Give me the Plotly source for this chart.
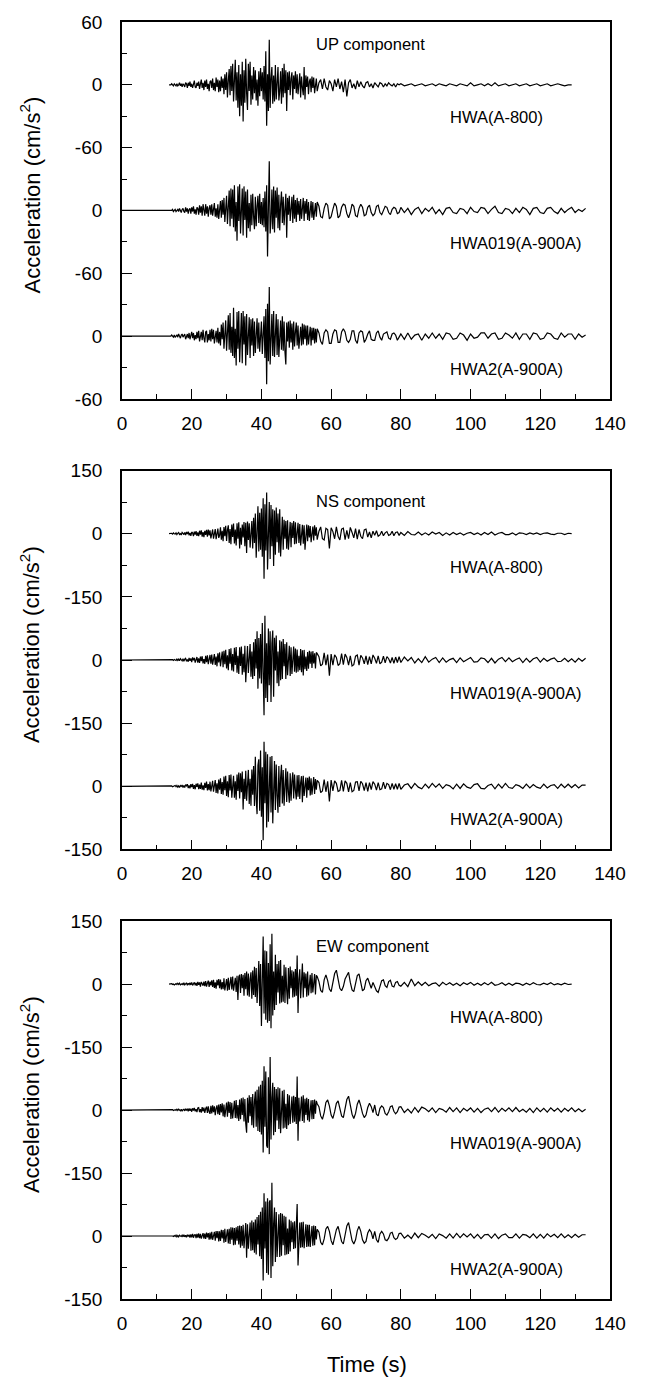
import numpy as np
import plotly.graph_objects as go

# Sample times (s): 0.25 s through the strong shaking, 0.5 s into the coda, 1 s afterwards
T_FAST = 14.0 + 0.25 * np.arange(168)
T_MID = 56.0 + 0.5 * np.arange(48)
T_SLOW = 80.0 + 1.0 * np.arange(54)
TIME = np.concatenate([T_FAST, T_MID, T_SLOW])

STATIONS = ["HWA(A-800)", "HWA019(A-900A)", "HWA2(A-900A)"]
RECORD_START = [13.5, 0.0, 0.0]

# ---------------- UP component (cm/s^2) ----------------
UP_HWA = [
    0, 1, 0, -1, 1, 0, -1, 1,
    -1, 0, 2, -1, 1, -2, 1, 0,
    -2, 2, 1, -3, 2, -1, 3, -2,
    1, -3, 2, 4, -2, -3, 2, -1,
    3, -4, 1, 5, -3, 2, -5, 4,
    -2, 5, -4, 1, -6, 3, 4, -3,
    6, -5, 2, -6, 7, -2, 5, -7,
    4, -6, 8, -3, 6, -9, 10, -5,
    12, -12, 4, 15, -10, 18, -6, 20,
    -16, 8, 24, -15, 12, -22, 19, -30,
    10, -20, 22, -35, 14, -17, 25, -8,
    -24, 20, -6, 22, -19, 9, -14, 17,
    -8, 14, -15, 5, -20, 13, -11, 16,
    -6, 12, -14, 18, -16, 32, -39, 10,
    -25, 43, -22, 6, 17, -18, 9, -16,
    19, -14, 4, 17, -15, -6, 13, -18,
    16, -12, 20, -8, 14, -25, 12, -5,
    13, -10, 6, 12, -14, 9, -4, 13,
    -8, 10, -9, 4, 11, -12, 8, -3,
    -10, 17, -14, 9, -2, 8, -9, 3,
    6, -7, 8, -3, 7, -8, 2, 6,
    -6, 2, 5, -4, 6, -2, -5, 4,
    1, -6, 5, -2, 6, -4, 3, -7,
    5, -11, 2, 5, -3, 1, -4, 4,
    -2, 3, -1, -3, 2, 3, -2, 1,
    -3, 2, 0, -2, 2, 1, -2, 1,
    -1, 2, 0, -1, 1, -2, 1, 0,
    1, -1, 0, 1, -1, 0, 1, -1,
    0, 1, -1, 1, 0, -1, 1, 0,
    -1, 1, 0, -1, 2, -1, 0, 1,
    -1, 1, -1, 2, -1, 0, 1, -1,
    0, 1, -1, 0, 1, -1, 0, 1,
    -1, 0, 1, -1, 0, 1, 0, -1,
    0, 0,
]
UP_HWA019 = [
    0, 0, 1, -1, 0, 1, -1, 0,
    1, -1, 2, 0, -2, 1, 2, -1,
    -2, 3, -1, 2, -3, 1, 2, -3,
    3, -1, 4, -3, 1, -4, 3, 2,
    -4, 5, -2, 4, -5, 6, -1, -5,
    6, -3, 4, -6, 2, 5, -4, 6,
    -5, 3, 7, -6, 2, -7, 6, -8,
    3, 9, -7, 10, -4, 12, -11, 5,
    14, -13, 6, 19, -15, 21, -8, 20,
    -16, 24, -20, 8, -29, 23, -10, 25,
    -22, 12, 21, -24, 23, -9, 18, -26,
    20, -17, 7, -20, 15, -14, 16, -6,
    -18, 13, -15, 4, 14, -12, 16, -13,
    8, -14, 12, -16, 18, -20, 24, -44,
    30, 47, -22, -10, 20, -18, 23, -21,
    19, -7, 22, -17, 15, -19, 6, 18,
    -12, 13, -14, 6, 16, -26, 12, -4,
    14, -10, 5, 13, -12, 15, -8, 10,
    -11, 12, -4, 9, -10, 11, -8, 4,
    12, -10, 9, -3, 11, -9, 8, -10,
    2, 9, -7, 8, -9, 3, 7, -6,
    8, 4, -6, -7, 2, 7, 5, -8,
    -6, 1, 7, 4, -7, -5, 3, 6,
    5, -3, -7, -2, 6, 4, -5, -6,
    2, 6, 3, -5, -4, 3, 5, -2,
    -5, -3, 4, 5, -2, -4, 1, 4,
    3, -2, -4, 1, 3, 2, -3, -2,
    3, -2, 2, -4, 1, 3, -3, 2,
    -1, 3, -3, 1, -4, 2, 3, -2,
    -3, 2, 1, -3, 3, -1, -2, 3,
    2, -3, 1, 4, -2, -3, 2, 1,
    -3, 2, -2, 3, 1, -4, 2, 3,
    -2, -3, 2, 3, -1, -3, 2, -2,
    1, 3, -2, 1, -1, 2,
]
UP_HWA2 = [
    0, 1, 0, -1, 1, -1, 0, 1,
    -1, 2, 0, -2, 1, 2, -1, 0,
    2, -3, 1, 2, -2, 3, -3, 1,
    4, -2, 3, -4, 1, -3, 4, -2,
    5, -5, 1, 4, -4, 6, -2, -6,
    4, 5, -6, 2, -4, 6, -5, 7,
    -3, 6, -7, 2, 5, -6, 8, -7,
    4, -9, 11, -3, 13, -12, 6, 15,
    -14, 8, 20, -13, 22, -16, 9, -19,
    27, -21, 7, -28, 23, -12, 24, -25,
    14, 22, -26, 24, -8, 19, -28, 21,
    -18, 6, 18, -21, 16, -9, 17, -19,
    14, -16, 5, 17, -12, 13, -15, 6,
    14, -17, 9, 19, -21, 26, -46, 31,
    -24, 47, -27, 8, 21, -19, 24, -20,
    6, 21, -18, 16, -20, 7, 15, -13,
    19, -14, 14, -15, -27, 13, -5, 14,
    -11, 15, -6, 12, -13, 14, -10, 4,
    13, -9, 10, -12, 5, 9, -9, 12,
    -8, 11, -3, 10, -9, 10, -8, 2,
    9, -9, 8, -4, 8, -7, 7, -6,
    7, 3, -5, -8, 3, 6, 4, -7,
    -7, 2, 6, 5, -6, -6, 4, 7,
    4, -4, -6, -3, 5, 5, -4, -7,
    3, 5, 4, -6, -3, 2, 5, -3,
    -4, -4, 3, 5, -1, -4, 2, 3,
    4, -2, -3, 2, 3, 1, -4, -1,
    2, -3, 3, -3, 1, 2, -4, 2,
    -2, 3, -2, 2, -3, 3, 2, -3,
    -2, 3, 1, -4, 2, -2, -1, 3,
    3, -2, 2, 3, -3, -2, 3, 1,
    -2, 3, -3, 2, 2, -3, 3, 2,
    -3, -2, 3, 2, -2, -3, 3, -1,
    2, 2, -3, 2, -1, 1,
]

# ---------------- NS component (cm/s^2) ----------------
NS_HWA = [
    0, 1, -1, 2, 0, -1, 2, -2,
    1, 3, -2, 0, -3, 3, 1, -2,
    3, -3, 4, -1, 5, -4, 2, -5,
    4, 2, -6, 5, -2, 6, -5, 3,
    -6, 7, -2, 8, -7, 4, -8, 7,
    -3, 9, -7, 10, -4, 8, -11, 5,
    10, -12, 4, 11, -13, 6, 12, -10,
    -4, 15, -14, 7, -18, 16, -6, 19,
    -17, 9, 20, -22, 11, -25, 22, -8,
    24, -23, 10, -28, 25, -12, 27, -35,
    14, -26, 22, -9, 28, -30, 26, -46,
    29, -15, 25, -33, 12, 30, -35, 38,
    -22, 48, -57, 30, 65, -42, 50, -38,
    60, -55, 84, -107, 70, -40, 98, -85,
    40, 75, -60, 68, -30, 58, -77, 55,
    -50, 62, -20, 48, -45, 58, -54, 22,
    40, -38, 33, -12, 30, -36, 32, -38,
    15, 28, -32, 26, -10, 30, -25, 27,
    -24, 8, 26, -22, 23, -28, 12, 21,
    -24, 20, -38, 6, 22, -18, 20, -9,
    18, -20, 7, 17, -16, 20, -5, 15,
    -14, 6, 16, -12, -15, 13, 10, -35,
    14, 5, -12, 16, -6, -15, 11, 13,
    -14, 8, -12, 15, 3, -10, 12, -13,
    10, -6, -12, 9, 11, -8, 4, -10,
    6, -4, 7, -6, -3, 6, -5, 2,
    5, -4, -2, 6, -5, 3, 4, -4,
    3, -4, 5, -2, -3, 4, -3, 2,
    -3, 4, -1, 3, -4, 2, -3, 3,
    -2, 2, -3, 1, 3, -2, 2, -3,
    3, -2, 4, -3, 1, 3, -2, -2,
    2, -3, 2, 1, -2, 2, -1, 2,
    -2, 1, 2, -1, -2, 1, 1, -2,
    1, 0,
]
NS_HWA019 = [
    0, 0, 1, -1, 1, 0, -1, 2,
    -1, 2, -2, 3, 0, -2, 3, -3,
    2, 4, -3, 1, -4, 5, -2, 4,
    -5, 6, -1, 5, -6, 3, 7, -6,
    4, -7, 8, -3, 9, -8, 2, -9,
    10, -5, 11, -10, 4, 12, -9, 13,
    -11, 5, 14, -12, 8, -15, 16, -6,
    18, -15, 7, 20, -17, 22, -10, 24,
    -20, 11, -24, 26, -9, 28, -25, 14,
    -27, 29, -12, 31, -30, 10, -33, 30,
    -14, 32, -35, 15, -29, 34, -53, 18,
    33, -31, 12, 38, -40, 20, -45, 42,
    -38, 50, -20, 68, -68, 52, -44, 62,
    -56, 88, -30, -131, 105, -90, 40, -100,
    75, -60, 68, -100, 40, 70, -87, 53,
    -25, 58, -55, 20, -62, 47, -48, 44,
    -45, 50, -15, 38, -45, 42, -36, 14,
    34, -38, 30, -33, 12, 32, -28, 27,
    -30, 25, -28, 10, -24, 26, -29, 23,
    -37, 24, -22, 8, -26, 19, -21, 22,
    -9, 20, -19, 21, -8, 16, -20, 18,
    15, 8, -14, -10, 17, -12, 13, -37,
    14, -12, 12, 6, -13, -9, 15, -11,
    14, 6, -12, 10, -14, -11, 9, 12,
    -12, 11, 5, -9, 10, -11, 8, -9,
    12, 4, -8, 10, -9, -5, 9, -7,
    8, 3, -7, 6, -8, 7, -6, 8,
    -6, 7, -2, 6, -7, 3, -6, 8,
    -5, 2, 6, -6, 5, -5, 1, 4,
    -6, 5, -4, 2, 6, -5, -4, 5,
    3, -6, 4, -7, 2, 6, -4, 5,
    -4, 1, 5, -6, 4, -5, 3, 6,
    -5, 4, -3, 2, 5, -4, -3, 4,
    -4, 3, -5, 4, -3, 4,
]
NS_HWA2 = [
    0, 1, -1, 0, 1, 2, -1, 2,
    -2, 1, -3, 2, 0, 3, -3, 2,
    -3, 4, 1, 5, -4, 2, -5, 5,
    -2, 6, -6, 3, -7, 6, -1, 7,
    -7, 4, -6, 9, -8, 2, -9, 8,
    -4, 11, -10, 5, -9, 11, -12, 6,
    13, -13, 4, 15, -16, 7, -17, 16,
    -8, 19, -18, 10, -20, 23, -9, 25,
    -23, 12, -26, 27, -10, 28, -27, 13,
    25, -27, 12, -32, 28, -11, 33, -29,
    31, -14, 35, -55, 18, -30, 37, -34,
    12, 39, -42, 18, -46, 40, -20, 48,
    -47, 70, -30, -66, 50, 64, -58, 85,
    -72, 45, -128, 106, -40, 82, -98, 76,
    -84, 30, 70, -62, 72, -88, 25, 60,
    -56, 52, -22, -63, 48, -49, 20, 51,
    -41, 39, -46, 15, 43, -37, 35, -14,
    -39, 31, -34, 12, 33, -29, 28, -10,
    -31, 26, -25, 27, -30, 9, 24, -38,
    25, -23, 8, 21, -27, 20, -9, 23,
    -22, 19, -20, 7, 22, -18, 17, -8,
    14, 9, -15, -11, 16, -13, 12, -36,
    15, -11, 13, 7, -12, -10, 14, -12,
    13, 7, -13, 9, -13, -10, 10, 11,
    -11, 12, 6, -10, 9, -12, 9, -8,
    11, 5, -9, 9, -8, -6, 10, -6,
    7, 4, -8, 7, -7, 6, -7, 7,
    -7, 3, 6, -5, 7, -2, -6, 5,
    -4, 7, -2, 6, -5, 4, 1, -6,
    5, -5, 6, -2, -5, 4, 6, -5,
    -6, 2, 5, -6, 5, -4, 7, -3,
    -5, 4, 1, -5, 5, -4, 4, -2,
    -5, 5, -4, 2, 4, -5, 5, -3,
    5, -3, 4, -4, 3, 3,
]

# ---------------- EW component (cm/s^2) ----------------
EW_HWA = [
    0, 1, -1, 0, -2, 1, 1, -1,
    2, -1, 2, -2, 0, 1, -2, 3,
    -2, 1, 3, -3, 2, -1, 3, -2,
    4, -3, 1, 4, -3, 3, -4, 5,
    -2, 4, -6, 5, 1, -4, 6, -5,
    7, -6, 2, 8, -7, 6, -3, 9,
    -7, 10, -9, 4, -11, 10, -3, 12,
    -10, 11, -13, 5, -12, 14, -15, 6,
    12, -16, 15, -14, 7, 17, -13, 18,
    -16, 6, 15, -19, 20, -38, 17, 22,
    -21, 24, -10, 22, -28, 26, -12, 30,
    -27, 25, -30, 12, 28, -35, 32, -26,
    41, -31, 38, -45, 20, 55, -52, 48,
    -100, 60, 113, -70, 80, -85, 78, -92,
    50, -88, 95, -105, 120, -75, 30, -62,
    70, -50, 48, -20, 55, -46, 57, -44,
    20, -42, 46, -45, 40, -15, -48, 38,
    -35, 42, -10, 33, -32, 30, -30, 36,
    -28, 68, -69, 12, 35, -34, 27, 49,
    -32, 28, -10, 25, -30, 30, -27, 8,
    22, -22, 26, -20, 4, 24, -25, 21,
    18, 6, -15, -20, 10, 22, 8, -12,
    -18, 5, 25, 33, 10, -10, -16, -6,
    12, 22, 28, 4, -14, -18, 2, 20,
    24, 6, -16, -12, 8, 14, 2, -10,
    4, -8, -16, -20, -6, 8, 10, -4,
    -8, 6, 9, -5, -7, 4, 6, -3,
    -5, 4, -6, 12, -4, 5, -3, 4,
    -4, 1, 3, -5, 4, -2, 3, -3,
    2, -4, 3, -1, 4, -3, 2, -3,
    3, -2, 4, -3, -1, 3, -3, 2,
    -3, 2, 1, -3, 2, -2, 3, -1,
    -2, 2, -1, 3, -2, 1, -2, 2,
    -1, 0,
]
EW_HWA019 = [
    0, 0, 1, -1, 0, 1, -1, 2,
    -1, 2, 0, -2, 2, -3, 1, 2,
    -2, 3, -1, 3, -3, 4, -2, 3,
    -4, 4, -1, 5, -3, 2, -5, 5,
    6, -5, 2, -6, 7, -3, 6, -7,
    3, 8, -7, 9, -4, -9, 10, -8,
    11, -5, 9, -12, 4, 11, -10, 13,
    -12, 14, -6, 16, -15, 13, -17, 8,
    18, -16, 20, -7, 19, -21, 17, -20,
    9, 22, -19, 24, -20, 12, -26, 25,
    -22, 28, -12, 30, -27, 26, -32, -54,
    29, -30, 35, -15, 31, -36, 38, -42,
    20, 44, -40, 48, -50, 56, -52, 60,
    -58, 70, -101, 104, -40, 92, -85, -90,
    78, -105, 126, -70, 30, 65, -60, 55,
    -52, 50, -25, 54, -45, 52, -55, 20,
    46, -44, 48, -42, 15, -45, 38, -36,
    35, -33, 12, 32, -30, 34, -28, 31,
    -33, 80, -73, 29, -27, 10, 32, -26,
    35, -30, 27, -12, 29, -24, 26, -28,
    8, 23, -22, 24, -21, 25, -9, 22,
    15, 8, -14, -22, -6, 18, 24, 10,
    -12, -20, -4, 16, 22, 6, -14, -18,
    5, 25, 33, 12, -10, -20, -8, 14,
    24, 10, -8, -18, -12, 6, 16, 8,
    -6, 12, -10, -14, 4, 10, 6, -8,
    -12, -4, 8, 10, -3, -9, -4, 7,
    8, -6, 2, -7, 6, -5, 7, 3,
    -4, 5, -6, 4, 1, -5, 6, -4,
    5, -6, 4, -2, 5, -5, 4, -6,
    2, 5, -4, 6, -5, 4, -3, 5,
    -4, 6, -4, 2, -5, 4, -6, 5,
    -4, 4, -5, 5, -3, 4, -5, 4,
    -3, 5, -4, 3, -4, 2,
]
EW_HWA2 = [
    0, 1, 0, -1, 1, -1, 2, -2,
    1, -2, 2, 0, -1, 2, -2, 3,
    -2, 2, -3, 3, -1, 3, -4, 4,
    -3, 5, -4, 2, 4, -5, 5, -4,
    6, -5, 5, -6, 2, 7, -6, 6,
    -7, 8, -3, 7, -9, 8, -8, 10,
    -9, 4, 10, -11, 12, -5, 12, -13,
    11, -12, 15, -6, 14, -16, 17, -14,
    7, 16, -18, 17, -19, 21, -9, 20,
    -22, 19, -21, 21, -11, 24, -20, 25,
    -28, 24, -23, 27, -29, 12, 31, -52,
    28, -30, 15, 32, -35, 37, -34, 33,
    -40, 39, -44, 45, -20, 50, -48, 58,
    -55, 68, -106, 102, -30, 82, -88, 90,
    -92, 80, 85, -100, 127, -72, 30, 68,
    -62, 57, -50, 20, 52, -50, 55, -47,
    53, -22, 48, -46, 46, -44, 18, -43,
    39, -37, 36, -15, 33, -31, 35, -29,
    30, 76, -70, 12, 32, -28, 33, -27,
    34, -29, 10, 28, -26, 27, -25, 27,
    -26, 9, 24, -23, 25, -22, 24, -8,
    16, 9, -15, -21, -7, 17, 23, 11,
    -11, -21, -5, 15, 23, 7, -13, -19,
    4, 24, 32, 13, -11, -19, -9, 13,
    23, 11, -9, -17, -13, 7, 15, 9,
    -7, 11, -9, -15, 5, 11, 5, -9,
    -11, -5, 7, 9, -4, -8, -5, 6,
    7, -5, 2, -6, 7, -4, 6, 2,
    -4, 4, -6, 5, 1, -5, 5, -5,
    6, -4, 5, -2, 5, -5, 4, -6,
    3, 4, -5, 5, -6, 2, 5, -4,
    -4, 5, -5, 4, 2, -4, 5, -5,
    4, -5, 5, -2, 4, -4, 5, -4,
    3, -4, 4, -3, 3, 3,
]

PANELS = [
    {"name": "UP component", "records": [UP_HWA, UP_HWA019, UP_HWA2], "step": 120,
     "range": [-300, 60], "label_y": 39,
     "tickvals": [60, 0, -60, -120, -180, -240, -300],
     "ticktext": ["60", "0", "-60", "0", "-60", "0", "-60"]},
    {"name": "NS component", "records": [NS_HWA, NS_HWA019, NS_HWA2], "step": 300,
     "range": [-750, 150], "label_y": 77,
     "tickvals": [150, 0, -150, -300, -450, -600, -750],
     "ticktext": ["150", "0", "-150", "0", "-150", "0", "-150"]},
    {"name": "EW component", "records": [EW_HWA, EW_HWA019, EW_HWA2], "step": 300,
     "range": [-750, 150], "label_y": 91,
     "tickvals": [150, 0, -150, -300, -450, -600, -750],
     "ticktext": ["150", "0", "-150", "0", "-150", "0", "-150"]},
]

FONT = "Liberation Sans, Arial, Helvetica, sans-serif"
W, H = 656, 1378
M_L, M_R, M_T, M_B = 122, 46, 15, 79
PLOT_H = H - M_T - M_B
# pixel rows (top, bottom) of the three frames
FRAMES = [(15, 394), (466, 847), (919, 1299)]
STATION_LABEL_X = 93.4


def py(pix):
    return 1 - (pix - M_T) / PLOT_H


fig = go.Figure()
layout = dict(
    width=W, height=H,
    margin=dict(l=M_L, r=M_R, t=M_T, b=M_B),
    paper_bgcolor="white", plot_bgcolor="white",
    showlegend=False,
    font=dict(family=FONT, color="black"),
)
annotations = []

for i, panel in enumerate(PANELS):
    sfx = "" if i == 0 else str(i + 1)
    xa, ya = "x" + sfx, "y" + sfx
    step = panel["step"]
    for k, rec in enumerate(panel["records"]):
        offset = -k * step
        t = np.concatenate([[RECORD_START[k]], TIME[:len(rec)]])
        v = np.concatenate([[0.0], np.asarray(rec, dtype=float)]) + offset
        fig.add_trace(go.Scatter(
            x=t, y=v, mode="lines", xaxis=xa, yaxis=ya,
            line=dict(color="black", width=1.2), hoverinfo="skip",
        ))
        annotations.append(dict(
            x=STATION_LABEL_X, y=offset - (78 if step == 300 else 31),
            xref=xa, yref=ya, text=STATIONS[k], showarrow=False,
            xanchor="left", yanchor="middle",
            font=dict(family=FONT, size=16.5, color="black"),
        ))
    annotations.append(dict(
        x=55, y=panel["label_y"], xref=xa, yref=ya, text=panel["name"],
        showarrow=False, xanchor="left", yanchor="middle",
        font=dict(family=FONT, size=16.5, color="black"),
    ))
    top, bot = FRAMES[i]
    tv = panel["tickvals"]
    minor_vals = [(a + b) / 2 for a, b in zip(tv[:-1], tv[1:])]
    layout["xaxis" + sfx] = dict(
        domain=[0, 1], anchor=ya, range=[0, 140],
        tickmode="array", tickvals=list(range(0, 141, 20)),
        ticks="inside", ticklen=10, tickwidth=1.4, tickcolor="black",
        minor=dict(tickmode="array", tickvals=list(range(10, 140, 20)),
                   ticks="inside", ticklen=5, tickwidth=1.2, tickcolor="black"),
        showline=True, linecolor="black", linewidth=1.8, mirror=True,
        showgrid=False, zeroline=False,
        tickfont=dict(family=FONT, size=19, color="black"),
        ticklabelstandoff=6,
    )
    layout["yaxis" + sfx] = dict(
        domain=[py(bot), py(top)], anchor=xa, range=panel["range"],
        tickmode="array", tickvals=tv, ticktext=panel["ticktext"],
        ticks="inside", ticklen=10, tickwidth=1.4, tickcolor="black",
        minor=dict(tickmode="array", tickvals=minor_vals,
                   ticks="inside", ticklen=5, tickwidth=1.2, tickcolor="black"),
        showline=True, linecolor="black", linewidth=1.8, mirror=True,
        showgrid=False, zeroline=False,
        tickfont=dict(family=FONT, size=19, color="black"),
        ticklabelstandoff=14,
    )
    # vertical axis title, one per frame
    annotations.append(dict(
        x=(30 - M_L) / (W - M_L - M_R), y=py((top + bot) / 2 - 15),
        xref="paper", yref="paper", text="Acceleration (cm/s<sup>2</sup>)",
        textangle=-90, showarrow=False, xanchor="center", yanchor="middle",
        font=dict(family=FONT, size=22, color="black"),
    ))

annotations.append(dict(
    x=(367 - M_L) / (W - M_L - M_R), y=py(1365), xref="paper", yref="paper",
    text="Time (s)", showarrow=False, xanchor="center", yanchor="middle",
    font=dict(family=FONT, size=22, color="black"),
))
layout["annotations"] = annotations
fig.update_layout(**layout)
fig.write_html("out.html")
